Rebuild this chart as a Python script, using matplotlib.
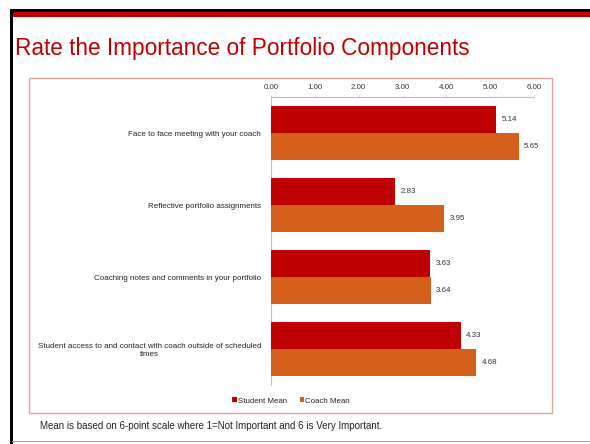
import matplotlib
matplotlib.use("Agg")
import matplotlib.pyplot as plt
import numpy as np
from matplotlib.patches import Rectangle

plt.rcParams['font.family'] = ['Liberation Sans', 'DejaVu Sans']

categories = [
    "Face to face meeting with your coach",
    "Reflective portfolio assignments",
    "Coaching notes and comments in your portfolio",
    "Student access to and contact with coach outside of scheduled\ntimes",
]
student_mean = [5.14, 2.83, 3.63, 4.33]
coach_mean = [5.65, 3.95, 3.64, 4.68]
x_ticks = [0, 1, 2, 3, 4, 5, 6]
x_tick_labels = ["0.00", "1.00", "2.00", "3.00", "4.00", "5.00", "6.00"]
series_names = ["Student Mean", "Coach Mean"]
title = "Rate the Importance of Portfolio Components"
footnote = "Mean is based on 6-point scale where 1=Not Important and 6 is Very Important."

W, H = 590, 444
fig = plt.figure(figsize=(W / 100, H / 100), dpi=100)
fig.patch.set_facecolor("white")

def fx(px):
    return px / W

def fy(py):
    return 1 - py / H

# slide decorations
fig.patches.append(Rectangle((fx(10), fy(12)), fx(580), 3 / H, transform=fig.transFigure,
                             facecolor="black", edgecolor="none", zorder=1))
fig.patches.append(Rectangle((fx(12), fy(17)), fx(578), 5 / H, transform=fig.transFigure,
                             facecolor="#C00000", edgecolor="none", zorder=2))
fig.patches.append(Rectangle((fx(10), fy(444)), 2.5 / W, 435 / H, transform=fig.transFigure,
                             facecolor="black", edgecolor="none", zorder=2))
fig.patches.append(Rectangle((fx(12), fy(442)), fx(578), 1.2 / H, transform=fig.transFigure,
                             facecolor="#DE8A8A", edgecolor="none", zorder=2))
# chart box
fig.patches.append(Rectangle((fx(29), fy(413)), fx(552 - 29), (413 - 78) / H, transform=fig.transFigure,
                             facecolor="none", edgecolor="#E3A3A3", linewidth=1.0, zorder=2))

fig.text(fx(15), fy(55.5), title, color="#C00000", fontsize=16.3, ha="left", va="baseline")
fig.text(fx(40), fy(425.5), footnote, color="#222222", fontsize=7.0, ha="left", va="center")

ax = fig.add_axes([fx(271), fy(385), fx(534 - 271), (385 - 97) / H])
y = np.arange(len(categories))
h = 0.37
student_color = "#BE0000"
coach_color = "#D45F18"
b1 = ax.barh(y - h / 2, student_mean, height=h, color=student_color, label=series_names[0], zorder=3)
b2 = ax.barh(y + h / 2, coach_mean, height=h, color=coach_color, label=series_names[1], zorder=3)
ax.bar_label(b1, fmt="%.2f", padding=3.8, fontsize=5.7, color="#333333")
ax.bar_label(b2, fmt="%.2f", padding=3.8, fontsize=5.7, color="#333333")

ax.set_xlim(0, 6)
ax.set_ylim(len(categories) - 0.5, -0.5)
ax.xaxis.tick_top()
ax.set_xticks(x_ticks)
ax.set_xticklabels(x_tick_labels, fontsize=5.7, color="#333333")
ax.tick_params(axis="x", length=1.5, width=0.6, color="#D0D0D0", pad=2.5)
ax.set_yticks(y)
ax.set_yticklabels(categories, fontsize=5.8, color="#222222")
ax.tick_params(axis="y", length=0, pad=7.2)
for lab in ax.get_yticklabels():
    lab.set_multialignment("center")

for side in ["bottom", "right"]:
    ax.spines[side].set_visible(False)
for side in ["top", "left"]:
    ax.spines[side].set_color("#BFBFBF")
    ax.spines[side].set_linewidth(0.8)

leg = fig.legend(handles=[b1, b2], labels=series_names, loc="center",
                 bbox_to_anchor=(fx(291), fy(401)), ncol=2, frameon=False,
                 fontsize=5.7, handlelength=0.55, handleheight=0.55, handletextpad=0.15,
                 columnspacing=1.6, borderaxespad=0)
for t in leg.get_texts():
    t.set_color("#222222")

fig.savefig("out.png", dpi=100, facecolor="white")
